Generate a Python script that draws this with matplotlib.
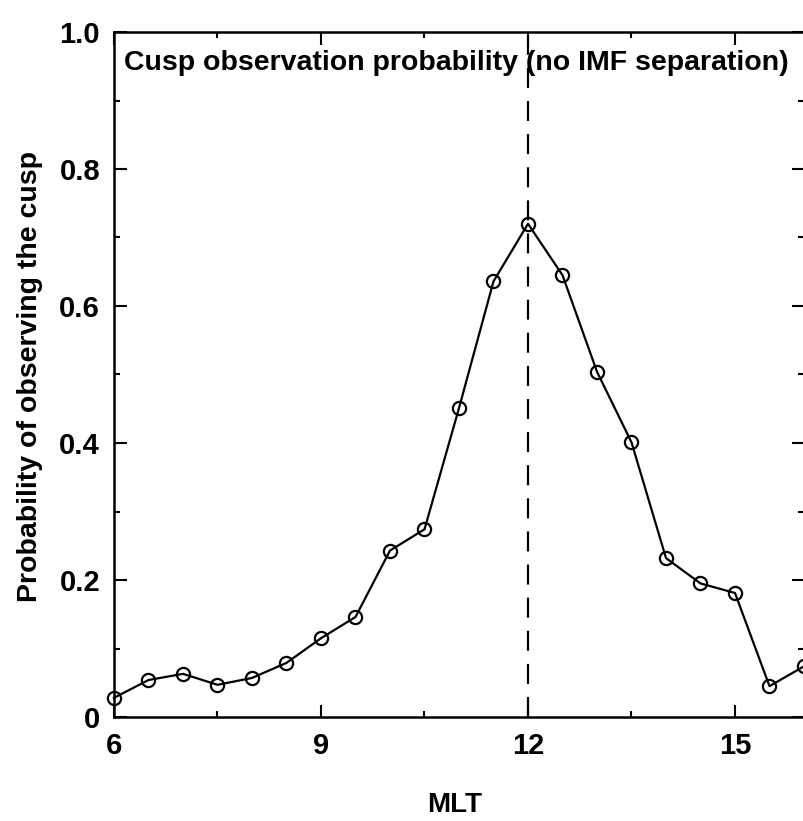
import numpy as np
import matplotlib
matplotlib.use('Agg')
import matplotlib.pyplot as plt
from matplotlib.ticker import MultipleLocator

plt.rcParams['font.family'] = ['Liberation Sans', 'DejaVu Sans']
plt.rcParams['font.weight'] = 'bold'

# probability of observing the cusp vs MLT
mlt = [6.0, 6.5, 7.0, 7.5, 8.0, 8.5, 9.0, 9.5, 10.0, 10.5, 11.0,
       11.5, 12.0, 12.5, 13.0, 13.5, 14.0, 14.5, 15.0, 15.5, 16.0]
prob = [0.028, 0.054, 0.063, 0.047, 0.057, 0.079, 0.115, 0.146, 0.243, 0.274, 0.451,
        0.636, 0.720, 0.645, 0.504, 0.401, 0.232, 0.195, 0.181, 0.045, 0.074]

xticks = [6, 9, 12, 15]
yticks = [0, 0.2, 0.4, 0.6, 0.8, 1.0]
yticklabels = ['0', '0.2', '0.4', '0.6', '0.8', '1.0']
noon = 12

fig = plt.figure(figsize=(8.04, 8.21), dpi=100)
ax = fig.add_axes([114/804, 104/821, 690/804, 685/821])

ax.plot(mlt, prob, color='black', lw=1.6, marker='o', ms=9.5, mfc='none',
        mec='black', mew=1.6, clip_on=False, zorder=3)
ax.axvline(noon, color='black', lw=1.6, dashes=(9, 5.9), zorder=2)

ax.text(0.014, 0.955, 'Cusp observation probability (no IMF separation)',
        transform=ax.transAxes, fontsize=20.5, ha='left', va='center')

ax.set_xlim(6, 16)
ax.set_ylim(0, 1.0)
ax.set_xticks(xticks)
ax.set_xticklabels([str(t) for t in xticks])
ax.set_yticks(yticks)
ax.set_yticklabels(yticklabels)
ax.xaxis.set_minor_locator(MultipleLocator(1.5))
ax.yaxis.set_minor_locator(MultipleLocator(0.1))

ax.tick_params(which='both', direction='in', top=True, right=True, width=1.5)
ax.tick_params(which='major', length=9, labelsize=21)
ax.tick_params(axis='x', which='major', pad=11)
ax.tick_params(axis='y', which='major', pad=10)
ax.tick_params(which='minor', length=4.5)
for s in ax.spines.values():
    s.set_linewidth(1.8)

fig.text(455/804, 1 - 805/821, 'MLT', fontsize=20, ha='center', va='center')
fig.text(30/804, 1 - 377/821, 'Probability of observing the cusp', fontsize=20.5,
         rotation=90, ha='center', va='center')

plt.savefig('out.png', dpi=100)
